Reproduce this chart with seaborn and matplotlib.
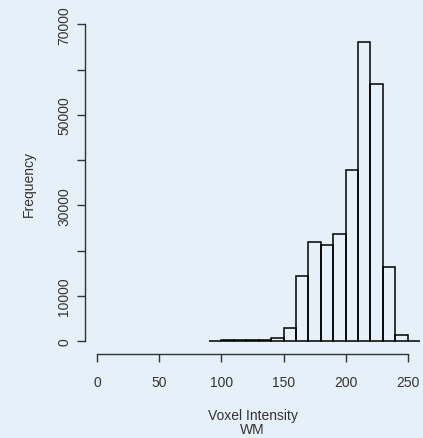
import matplotlib
matplotlib.use("Agg")
import matplotlib.pyplot as plt
import seaborn as sns

# Histogram of white-matter voxel intensities (bin width 10)
bin_edges = [90, 100, 110, 120, 130, 140, 150, 160, 170, 180, 190,
             200, 210, 220, 230, 240, 250, 260]
counts = [20, 200, 220, 230, 380, 680, 3000, 14400, 22000, 21300,
          23600, 37900, 66000, 56900, 16500, 1500, 0]
x_ticks = [0, 50, 100, 150, 200, 250]
y_ticks = [0, 10000, 20000, 30000, 40000, 50000, 60000, 70000]
y_tick_labels = ["0", "10000", "", "30000", "", "50000", "", "70000"]

bg = "#E6F0F8"
ink = "#333333"

sns.set_style("white")
plt.rcParams["font.family"] = ["Liberation Sans", "DejaVu Sans"]

fig = plt.figure(figsize=(4.23, 4.39), dpi=100, facecolor=bg)
ax = fig.add_axes([85 / 423, 84 / 439, 335 / 423, (426.3 - 84) / 439])
ax.set_facecolor(bg)

centers = [(a + b) / 2 for a, b in zip(bin_edges[:-1], bin_edges[1:])]
sns.histplot(x=centers, weights=counts, bins=bin_edges, fill=False,
             color="black", linewidth=1.1, element="bars", ax=ax)

ax.set_xlim(-10, 260)
ax.set_ylim(-2800, 72800)

for side in ("top", "right"):
    ax.spines[side].set_visible(False)
ax.spines["left"].set_bounds(0, 70000)
ax.spines["bottom"].set_bounds(0, 250)
for side in ("left", "bottom"):
    ax.spines[side].set_color(ink)
    ax.spines[side].set_linewidth(1.0)

ax.set_xticks(x_ticks)
ax.set_xticklabels([str(v) for v in x_ticks])
ax.set_yticks(y_ticks)
ax.set_yticklabels(y_tick_labels, rotation=90, va="center")
ax.tick_params(axis="both", direction="out", length=6, width=1.0,
               color=ink, labelcolor=ink, labelsize=10)
ax.tick_params(axis="x", bottom=True, pad=9)
ax.tick_params(axis="y", left=True, pad=4)

ax.set_xlabel("Voxel Intensity\nWM", fontsize=10, color=ink, labelpad=13.5,
              linespacing=1.0)
ax.set_ylabel("Frequency", fontsize=10, color=ink, labelpad=15)

fig.savefig("out.png", dpi=100, facecolor=bg)
